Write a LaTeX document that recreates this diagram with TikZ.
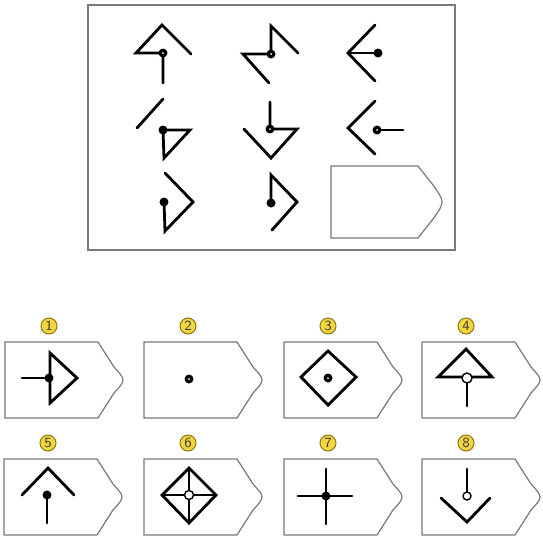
\documentclass[tikz,border=0pt]{standalone}
\usepackage{tikz}
\definecolor{framegray}{HTML}{7A7A7A}
\definecolor{badge}{HTML}{F3D63C}
\definecolor{badgeline}{HTML}{8E7A1E}

\begin{document}
\begin{tikzpicture}[
    x=0.02cm, y=-0.02cm,
    fig/.style={line width=1.6pt, line cap=round, line join=miter},
    panel/.style={draw=framegray, line width=0.7pt},
    bdot/.style={circle, fill=black, inner sep=0pt, minimum size=0.18cm},
    hdot/.style={bdot, path picture={\fill[white] (path picture bounding box.center) circle (0.02cm);}},
    wdot/.style={circle, draw=black, line width=0.8pt, fill=white, inner sep=0pt, minimum size=0.18cm},
    num/.style={circle, draw=badgeline, fill=badge, line width=0.6pt, inner sep=0pt, minimum size=0.32cm, font=\sffamily\footnotesize, text=black!75}
]
\useasboundingbox (0,0) rectangle (543,542);

% matrix frame
\draw[panel] (88,5) rectangle (455,250);

% row 1
\draw[fig] (163,83) -- (163,53) -- (136,53) -- (162,25) -- (191,54);
\node[hdot] (m1) at (163,53) {};
\draw[fig] (298,53) -- (271,26) -- (271,54) -- (243,54) -- (269,83);
\node[hdot] (m2) at (271,54) {};
\draw[fig] (375,25) -- (348,53) -- (375,81);
\draw[fig] (348,53) -- (378,53);
\node[bdot] (m3) at (378,53) {};

% row 2
\draw[fig] (137,128) -- (163,99);
\draw[fig] (163,130) -- (190,130) -- (164,158) -- cycle;
\node[bdot] (m4) at (163,130) {};
\draw[fig] (270,102) -- (270,129) -- (297,129) -- (271,158) -- (244,129);
\node[hdot] (m5) at (270,129) {};
\draw[fig] (375,101) -- (348,128) -- (375,154);
\draw[fig] (377,130) -- (403,130);
\node[hdot] (m6) at (377,130) {};

% row 3
\draw[fig] (165,173) -- (193,202) -- (165,231) -- (164,202);
\node[bdot] (m7) at (164,202) {};
\draw[fig] (271,203) -- (271,175) -- (297,202) -- (272,230);
\node[bdot] (m8) at (271,203) {};

% empty answer slot
\draw[panel] (331,166) -- (418,166) -- (433,185) .. controls (445,202) .. (433,219) -- (418,238) -- (331,238) -- cycle;

% answer boxes and badges
\foreach \i/\l/\t in {1/5/342, 2/144/342, 3/284/342, 4/422/342, 5/4/459, 6/144/459, 7/284/459, 8/422/459} {
    \draw[panel] (\l,\t) -- (\l+93,\t) -- (\l+109,\t+25) .. controls (\l+121,\t+38) .. (\l+109,\t+51) -- (\l+93,\t+76) -- (\l,\t+76) -- cycle;
    \node[num] (n\i) at (\l+44,\t-16) {\i};
}

% option 1
\draw[fig] (22,378) -- (49,378);
\draw[fig] (50,353) -- (50,403) -- (77,378) -- cycle;
\node[bdot] (o1) at (49,378) {};
% option 2
\node[hdot] (o2) at (189,379) {};
% option 3
\draw[fig] (328,351) -- (356,377) -- (328,405) -- (301,377) -- cycle;
\node[hdot] (o3) at (328,378) {};
% option 4
\draw[fig] (466,349) -- (492,377) -- (438,377) -- cycle;
\draw[fig] (467,378) -- (467,406);
\node[wdot, minimum size=0.2cm] (o4) at (467,378) {};

% option 5
\draw[fig] (22,495) -- (48,468) -- (74,495);
\draw[fig] (47,495) -- (47,523);
\node[bdot] (o5) at (47,495) {};
% option 6
\draw[fig] (189,468) -- (216,495) -- (189,523) -- (162,495) -- cycle;
\draw[fig] (189,468) -- (189,523);
\draw[fig] (162,495) -- (216,495);
\node[wdot] (o6) at (189,495) {};
% option 7
\draw[fig] (298,496) -- (352,496);
\draw[fig] (326,469) -- (326,524);
\node[bdot] (o7) at (326,496) {};
% option 8
\draw[fig] (467,469) -- (467,496);
\draw[fig] (441,498) -- (467,522) -- (490,498);
\node[wdot, minimum size=0.16cm] (o8) at (467,496) {};
\end{tikzpicture}
\end{document}
